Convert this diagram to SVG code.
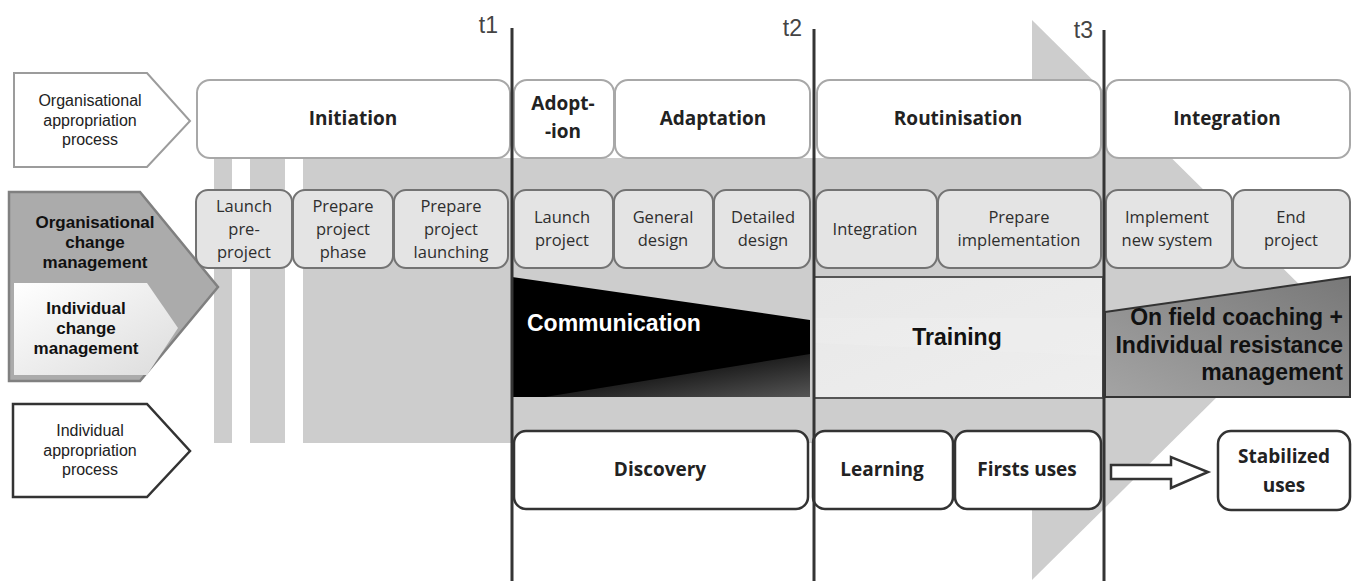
<svg xmlns="http://www.w3.org/2000/svg" width="1353" height="581" viewBox="0 0 1353 581">
<defs>
<style>
.lbl{font-family:"Liberation Sans",Arial,sans-serif;font-size:16px;fill:#222;text-anchor:middle}
.lblb{font-family:"Liberation Sans",Arial,sans-serif;font-size:17px;font-weight:bold;fill:#111;text-anchor:middle}
.top{fill:#fff;stroke:#a8a8a8;stroke-width:2}
.topt{font-family:"Open Sans",sans-serif;font-size:19px;font-weight:bold;fill:#222;text-anchor:middle}
.mid{fill:#e4e4e4;stroke:#737373;stroke-width:2}
.midt{font-family:"Open Sans",sans-serif;font-size:16.5px;fill:#2e2e2e;text-anchor:middle}
.ind{fill:#fff;stroke:#333;stroke-width:2.5}
.big{font-family:"Liberation Sans",Arial,sans-serif;font-size:23px;font-weight:bold}
.tl{stroke:#353535;stroke-width:3}
.tt{font-family:"Liberation Sans",Arial,sans-serif;font-size:23px;fill:#444;text-anchor:end}
</style>
<linearGradient id="gInd" x1="0" y1="0" x2="1" y2="1">
<stop offset="0" stop-color="#ffffff"/><stop offset="1" stop-color="#dcdcdc"/>
</linearGradient>
<linearGradient id="gCom" x1="0" y1="0" x2="1" y2="1">
<stop offset="0.2" stop-color="#000"/><stop offset="1" stop-color="#555"/>
</linearGradient>
<linearGradient id="gTr" x1="0" y1="0" x2="1" y2="1">
<stop offset="0" stop-color="#e8e8e8"/><stop offset="1" stop-color="#eeeeee"/>
</linearGradient>
<linearGradient id="gOn" x1="0" y1="1" x2="1" y2="0">
<stop offset="0" stop-color="#a4a4a4"/><stop offset="0.5" stop-color="#8e8e8e"/><stop offset="1" stop-color="#787878"/>
</linearGradient>
</defs>
<rect width="1353" height="581" fill="#fff"/>

<g id="background-arrow" fill="#cdcdcd">
<rect x="214" y="158" width="18" height="285"/>
<rect x="250" y="158" width="35" height="285"/>
<rect x="303" y="158" width="730" height="285"/>
<polygon points="1032,20 1315,300 1032,580"/>
</g>

<g id="label-org-appropriation">
<polygon points="14,73 147,73 190,121 147,167 14,167" fill="#fff" stroke="#9c9c9c" stroke-width="2"/>
<text class="lbl" x="90" y="106">Organisational</text>
<text class="lbl" x="90" y="126">appropriation</text>
<text class="lbl" x="90" y="145">process</text>
</g>
<g id="label-change-management">
<polygon points="9,192 140,192 218,287 140,381 9,381" fill="#ababab" stroke="#808080" stroke-width="2.5"/>
<text class="lblb" x="95" y="228">Organisational</text>
<text class="lblb" x="95" y="248">change</text>
<text class="lblb" x="95" y="268">management</text>
<polygon points="14,283 147,283 178,328 147,375 14,375" fill="url(#gInd)"/>
<text class="lblb" x="86" y="314">Individual</text>
<text class="lblb" x="86" y="334">change</text>
<text class="lblb" x="86" y="354">management</text>
</g>
<g id="label-ind-appropriation">
<polygon points="13,404 147,404 190,451 147,497 13,497" fill="#fff" stroke="#333" stroke-width="2.5"/>
<text class="lbl" x="90" y="436">Individual</text>
<text class="lbl" x="90" y="456">appropriation</text>
<text class="lbl" x="90" y="475">process</text>
</g>

<g id="phase-initiation"><rect class="top" x="197" y="80" width="313" height="78" rx="13"/><text class="topt" x="353" y="125">Initiation</text></g>
<g id="phase-adoption"><rect class="top" x="514" y="80" width="100" height="78" rx="13"/><text class="topt" x="563" y="110">Adopt-</text><text class="topt" x="563" y="138">-ion</text></g>
<g id="phase-adaptation"><rect class="top" x="615" y="80" width="195" height="78" rx="13"/><text class="topt" x="713" y="125">Adaptation</text></g>
<g id="phase-routinisation"><rect class="top" x="817" y="80" width="284" height="78" rx="13"/><text class="topt" x="958" y="125">Routinisation</text></g>
<g id="phase-integration"><rect class="top" x="1106" y="80" width="244" height="78" rx="13"/><text class="topt" x="1227" y="125">Integration</text></g>

<g id="step-launch-preproject"><rect class="mid" x="196" y="190" width="96" height="78" rx="12"/><text class="midt" x="244" y="212">Launch</text><text class="midt" x="244" y="235">pre-</text><text class="midt" x="244" y="258">project</text></g>
<g id="step-prepare-phase"><rect class="mid" x="293" y="190" width="100" height="78" rx="12"/><text class="midt" x="343" y="212">Prepare</text><text class="midt" x="343" y="235">project</text><text class="midt" x="343" y="258">phase</text></g>
<g id="step-prepare-launching"><rect class="mid" x="394" y="190" width="114" height="78" rx="12"/><text class="midt" x="451" y="212">Prepare</text><text class="midt" x="451" y="235">project</text><text class="midt" x="451" y="258">launching</text></g>
<g id="step-launch-project"><rect class="mid" x="514" y="190" width="99" height="78" rx="12"/><text class="midt" x="562" y="223">Launch</text><text class="midt" x="562" y="246">project</text></g>
<g id="step-general-design"><rect class="mid" x="614" y="190" width="99" height="78" rx="12"/><text class="midt" x="663" y="223">General</text><text class="midt" x="663" y="246">design</text></g>
<g id="step-detailed-design"><rect class="mid" x="714" y="190" width="96" height="78" rx="12"/><text class="midt" x="763" y="223">Detailed</text><text class="midt" x="763" y="246">design</text></g>
<g id="step-integration"><rect class="mid" x="816" y="190" width="121" height="78" rx="12"/><text class="midt" x="875" y="235">Integration</text></g>
<g id="step-prepare-implementation"><rect class="mid" x="938" y="190" width="163" height="78" rx="12"/><text class="midt" x="1019" y="223">Prepare</text><text class="midt" x="1019" y="246">implementation</text></g>
<g id="step-implement"><rect class="mid" x="1106" y="190" width="126" height="78" rx="12"/><text class="midt" x="1167" y="223">Implement</text><text class="midt" x="1167" y="246">new system</text></g>
<g id="step-end-project"><rect class="mid" x="1233" y="190" width="117" height="78" rx="12"/><text class="midt" x="1291" y="223">End</text><text class="midt" x="1291" y="246">project</text></g>

<g id="communication">
<polygon points="512,277 810,320 810,397 512,397" fill="#000"/>
<polygon points="545,397 810,354 810,397" fill="url(#gCom)"/>
<text class="big" x="527" y="331" fill="#fff">Communication</text>
</g>
<g id="training">
<rect x="814" y="277" width="289" height="121" fill="url(#gTr)" stroke="#555" stroke-width="2"/>
<polygon points="815,318 1102,318 1102,356 815,343" fill="#f2f2f2" opacity="0.35"/>
<text class="big" x="957" y="345" fill="#111" text-anchor="middle">Training</text>
</g>
<g id="coaching">
<polygon points="1105,312 1350,277 1350,397 1105,397" fill="url(#gOn)" stroke="#333" stroke-width="2"/>
<text class="big" x="1343" y="325" fill="#111" text-anchor="end">On field coaching +</text>
<text class="big" x="1343" y="353" fill="#111" text-anchor="end">Individual resistance</text>
<text class="big" x="1343" y="380" fill="#111" text-anchor="end">management</text>
</g>

<g id="use-discovery"><rect class="ind" x="514" y="431" width="294" height="78" rx="12"/><text class="topt" x="660" y="476">Discovery</text></g>
<g id="use-learning"><rect class="ind" x="813" y="431" width="140" height="78" rx="12"/><text class="topt" x="882" y="476">Learning</text></g>
<g id="use-firsts"><rect class="ind" x="955" y="431" width="146" height="78" rx="12"/><text class="topt" x="1027" y="476">Firsts uses</text></g>
<g id="use-stabilized"><rect class="ind" x="1218" y="431" width="132" height="79" rx="13"/><text class="topt" x="1284" y="463">Stabilized</text><text class="topt" x="1284" y="492">uses</text></g>

<g id="connectors">
<polygon points="1111,465 1171,465 1171,457 1208,472 1171,488 1171,479 1111,479" fill="#fff" stroke="#333" stroke-width="2.5" stroke-linejoin="miter"/>
</g>

<g id="timeline">
<line class="tl" x1="512" y1="28" x2="512" y2="581"/>
<line class="tl" x1="814" y1="29" x2="814" y2="581"/>
<line class="tl" x1="1104" y1="30" x2="1104" y2="581"/>
<text class="tt" x="498" y="33">t1</text>
<text class="tt" x="802" y="36">t2</text>
<text class="tt" x="1093" y="38">t3</text>
</g>
</svg>
